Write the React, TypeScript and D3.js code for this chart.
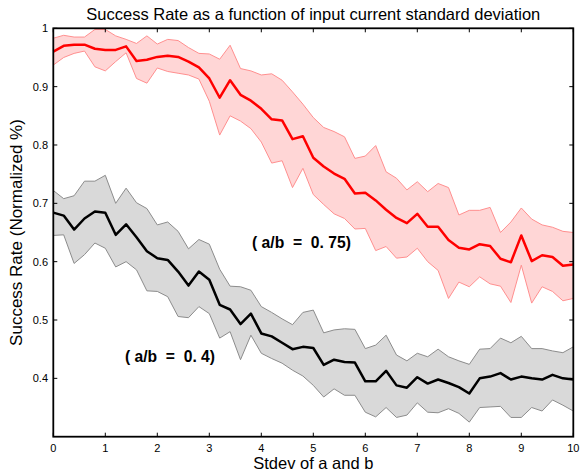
import React from 'react';
import * as d3 from 'd3';

// stdev of a and b (x positions of samples)
const stdevValues = [
  0, 0.2, 0.4, 0.6, 0.8, 1, 1.2, 1.4, 1.6, 1.8, 2, 2.2, 2.4, 2.6, 2.8, 3, 3.2, 3.4, 3.6, 3.8,
  4, 4.2, 4.4, 4.6, 4.8, 5, 5.2, 5.4, 5.6, 5.8, 6, 6.2, 6.4, 6.6, 6.8, 7, 7.2, 7.4, 7.6, 7.8,
  8, 8.2, 8.4, 8.6, 8.8, 9, 9.2, 9.4, 9.6, 9.8, 10,
];

// a/b = 0.75
const redMean = [
  0.960, 0.970, 0.972, 0.972, 0.965, 0.963, 0.963, 0.969, 0.944, 0.946, 0.951, 0.953, 0.951,
  0.943, 0.933, 0.914, 0.881, 0.911, 0.886, 0.876, 0.862, 0.844, 0.842, 0.810, 0.815, 0.778,
  0.763, 0.751, 0.742, 0.717, 0.718, 0.705, 0.689, 0.675, 0.666, 0.682, 0.660, 0.660, 0.637,
  0.624, 0.621, 0.630, 0.627, 0.605, 0.599, 0.645, 0.601, 0.611, 0.608, 0.593, 0.595,
];
const redUpper = [
  0.983, 0.988, 0.985, 0.985, 0.998, 0.998, 0.987, 0.981, 0.974, 0.987, 0.973, 0.981, 0.979,
  0.967, 0.957, 0.956, 0.947, 0.971, 0.931, 0.927, 0.920, 0.922, 0.911, 0.891, 0.870, 0.847,
  0.830, 0.823, 0.814, 0.777, 0.781, 0.799, 0.754, 0.743, 0.723, 0.737, 0.720, 0.734, 0.727,
  0.680, 0.688, 0.688, 0.693, 0.650, 0.668, 0.692, 0.673, 0.663, 0.659, 0.652, 0.650,
];
const redLower = [
  0.937, 0.950, 0.957, 0.961, 0.934, 0.927, 0.943, 0.958, 0.914, 0.906, 0.932, 0.926, 0.923,
  0.920, 0.913, 0.875, 0.817, 0.850, 0.841, 0.828, 0.805, 0.769, 0.773, 0.727, 0.760, 0.715,
  0.698, 0.682, 0.674, 0.656, 0.657, 0.619, 0.626, 0.606, 0.608, 0.623, 0.600, 0.585, 0.537,
  0.565, 0.557, 0.574, 0.562, 0.558, 0.530, 0.594, 0.529, 0.557, 0.549, 0.533, 0.537,
];

// a/b = 0.4
const blackMean = [
  0.684, 0.679, 0.655, 0.674, 0.686, 0.684, 0.646, 0.664, 0.642, 0.618, 0.606, 0.603, 0.583,
  0.559, 0.583, 0.569, 0.526, 0.518, 0.493, 0.511, 0.477, 0.472, 0.461, 0.450, 0.454, 0.452,
  0.423, 0.432, 0.428, 0.427, 0.395, 0.395, 0.413, 0.388, 0.384, 0.402, 0.391, 0.398, 0.392,
  0.385, 0.374, 0.400, 0.403, 0.409, 0.398, 0.403, 0.400, 0.398, 0.406, 0.400, 0.398,
];
const blackUpper = [
  0.722, 0.708, 0.713, 0.738, 0.738, 0.748, 0.700, 0.726, 0.701, 0.691, 0.663, 0.668, 0.652,
  0.622, 0.638, 0.630, 0.587, 0.558, 0.557, 0.551, 0.523, 0.513, 0.502, 0.492, 0.513, 0.517,
  0.478, 0.483, 0.485, 0.484, 0.451, 0.457, 0.474, 0.440, 0.430, 0.443, 0.437, 0.450, 0.437,
  0.430, 0.424, 0.450, 0.451, 0.469, 0.461, 0.472, 0.451, 0.451, 0.447, 0.444, 0.454,
];
const blackLower = [
  0.645, 0.646, 0.597, 0.612, 0.632, 0.623, 0.591, 0.600, 0.586, 0.550, 0.549, 0.540, 0.506,
  0.504, 0.523, 0.511, 0.469, 0.480, 0.432, 0.474, 0.443, 0.434, 0.426, 0.414, 0.404, 0.388,
  0.368, 0.382, 0.371, 0.371, 0.342, 0.334, 0.350, 0.333, 0.337, 0.358, 0.342, 0.341, 0.348,
  0.340, 0.325, 0.350, 0.351, 0.352, 0.333, 0.333, 0.350, 0.344, 0.363, 0.354, 0.344,
];

const xTicks = [0, 1, 2, 3, 4, 5, 6, 7, 8, 9, 10];
const yTicks = [0.4, 0.5, 0.6, 0.7, 0.8, 0.9, 1];

const font = '"Liberation Sans", Arial, Helvetica, sans-serif';

const App = () => {
  const width = 581, height = 474;
  const left = 53.3, right = 573.3, top = 28.3, bottom = 436.7;

  const x = d3.scaleLinear().domain([0, 10]).range([left, right]);
  const y = d3.scaleLinear().domain([0.3, 1]).range([bottom, top]);

  const band = (lo, hi) =>
    d3.area().x((d, i) => x(stdevValues[i])).y0((d, i) => y(lo[i])).y1((d, i) => y(hi[i]))(lo);
  const line = (vals) =>
    d3.line().x((d, i) => x(stdevValues[i])).y((d) => y(d))(vals);

  const fmt = (v) => (v === 1 ? '1' : d3.format('.1f')(v));

  return (
    <svg width={width} height={height} style={{ position: 'absolute', left: 0, top: 0, background: '#fff' }}
         fontFamily={font}>
      {/* black band */}
      <path d={band(blackLower, blackUpper)} fill="#d9d9d9" stroke="none" />
      <path d={line(blackUpper)} fill="none" stroke="#8c8c8c" strokeWidth={1} />
      <path d={line(blackLower)} fill="none" stroke="#8c8c8c" strokeWidth={1} />
      {/* red band */}
      <path d={band(redLower, redUpper)} fill="#ffd6d6" stroke="none" />
      <path d={line(redUpper)} fill="none" stroke="#ff8f8f" strokeWidth={1} />
      <path d={line(redLower)} fill="none" stroke="#ff8f8f" strokeWidth={1} />
      {/* means */}
      <path d={line(blackMean)} fill="none" stroke="#000" strokeWidth={2.5} strokeLinejoin="round" />
      <path d={line(redMean)} fill="none" stroke="#ff0000" strokeWidth={2.5} strokeLinejoin="round" />

      {/* frame */}
      <rect x={left} y={top} width={right - left} height={bottom - top} fill="none" stroke="#000" strokeWidth={1.8} />

      {/* x ticks */}
      {xTicks.map((t) => (
        <g key={'x' + t}>
          <line x1={x(t)} x2={x(t)} y1={bottom} y2={bottom - 4} stroke="#000" />
          <line x1={x(t)} x2={x(t)} y1={top} y2={top + 4} stroke="#000" />
          <text x={x(t)} y={452} fontSize={11} textAnchor="middle">{t}</text>
        </g>
      ))}
      {/* y ticks */}
      {yTicks.map((t) => (
        <g key={'y' + t}>
          <line x1={left} x2={left + 4} y1={y(t)} y2={y(t)} stroke="#000" />
          <line x1={right} x2={right - 4} y1={y(t)} y2={y(t)} stroke="#000" />
          <text x={48} y={y(t) + 4} fontSize={11} textAnchor="end">{fmt(t)}</text>
        </g>
      ))}

      {/* annotations */}
      <text x={252} y={248} fontSize={16.5} fontWeight="bold" textLength={99} lengthAdjust="spacingAndGlyphs"
            xmlSpace="preserve">( a/b  =  0. 75)</text>
      <text x={125} y={362} fontSize={16.5} fontWeight="bold" textLength={90} lengthAdjust="spacingAndGlyphs"
            xmlSpace="preserve">( a/b  =  0. 4)</text>

      {/* titles */}
      <text x={(left + right) / 2} y={20} fontSize={16.5} textAnchor="middle">
        Success Rate as a function of input current standard deviation
      </text>
      <text x={(left + right) / 2} y={469} fontSize={16.5} textAnchor="middle">Stdev of a and b</text>
      <text transform={`translate(22,${(top + bottom) / 2}) rotate(-90)`} fontSize={17} textAnchor="middle">
        Success Rate (Normalized %)
      </text>
    </svg>
  );
};

export default App;
